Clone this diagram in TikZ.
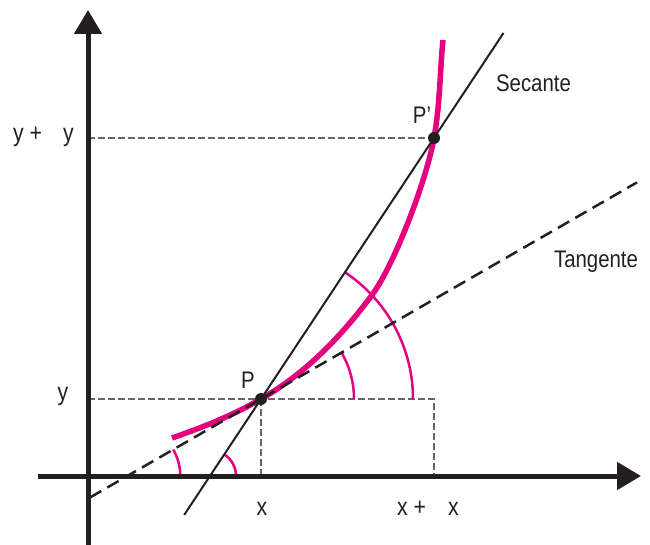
\documentclass[tikz,border=0pt]{standalone}
\usepackage{fontspec}
\setmainfont[FakeStretch=0.85]{Liberation Sans}
\usetikzlibrary{arrows.meta,calc}
\definecolor{mag}{HTML}{E5007D}
\definecolor{ink}{HTML}{231F20}
\definecolor{guide}{HTML}{666666}
\begin{document}
\begin{tikzpicture}[x=1pt,y=-1pt,
  axis/.style={line width=5pt,draw=ink,-{Triangle[length=24pt,width=27pt]}},
  guideline/.style={draw=guide,line width=2.4pt,dash pattern=on 6.5pt off 3.5pt},
  secline/.style={draw=ink,line width=2pt},
  tanline/.style={draw=ink,line width=2.5pt,dash pattern=on 13pt off 7pt},
  curve/.style={draw=mag,line width=5.5pt,line cap=butt},
  anglearc/.style={draw=mag,line width=2.5pt},
  dot/.style={circle,fill=ink,inner sep=0pt,minimum size=12pt},
  lbl/.style={font=\fontsize{24}{28}\selectfont,text=ink,inner sep=0pt},
  axlbl/.style={font=\fontsize{25}{29}\selectfont,text=ink,inner sep=0pt}]
\useasboundingbox (0,0) rectangle (650,545);
% key points
\coordinate (P) at (261,399);
\coordinate (Pp) at (434,138);
\coordinate (Q) at (434,399);
\coordinate (yP) at (88,399);
\coordinate (yPp) at (88,138);
\coordinate (xP) at (261,476);
\coordinate (xPp) at (434,476);
\coordinate (S1) at (184.2,514.9);
\coordinate (S2) at (503.5,33);
\coordinate (T1) at (90,497.5);
\coordinate (T2) at (637,182.4);
\coordinate (T0) at (127.3,476);
\coordinate (S0) at (210,476);
\coordinate (Xa) at (38,476);
\coordinate (Xb) at (641,476);
\coordinate (Ya) at (88,545);
\coordinate (Yb) at (88,10);
\coordinate (C0) at (172,438);
\coordinate (M) at (372,295);
\coordinate (C9) at (443,40);
% guide lines
\draw[guideline] (yP) -- (Q) -- (xPp);
\draw[guideline] (P) -- (xP);
\draw[guideline] (yPp) -- (Pp);
% angle arcs
\draw[anglearc] ($(P)+(152,0)$) arc[start angle=0,end angle=-56.46,radius=152];
\draw[anglearc] ($(P)+(93,0)$) arc[start angle=0,end angle=-29.94,radius=93];
\draw[anglearc] ($(T0)+(53,0)$) arc[start angle=0,end angle=-29.94,radius=53];
\draw[anglearc] ($(S0)+(26,0)$) arc[start angle=0,end angle=-56.46,radius=26];
% curve
\draw[curve] (C0) .. controls (202,427.5) and (231,416.3) .. (P)
  .. controls (301,376) and (337,342.3) .. (M)
  .. controls (394,265.3) and (426,182) .. (Pp)
  .. controls (440,105) and (440,70) .. (C9);
% lines
\draw[tanline] (T1) -- (T2);
\draw[secline] (S1) -- (S2);
% axes
\draw[axis] (Xa) -- (Xb);
\draw[axis] (Ya) -- (Yb);
% points
\node[dot] (dotP) at (P) {};
\node[dot] (dotPp) at (Pp) {};
% labels
\node[lbl,anchor=base] (lsec) at (533.5,92) {Secante};
\node[lbl,anchor=base] (ltan) at (596,267) {Tangente};
\node[lbl,anchor=base] (lPp) at (422,124) {P’};
\node[lbl,anchor=base] (lP) at (248,388) {P};
\node[axlbl,anchor=base west] (lyPp) at (13,142) {y +\hspace{21pt}y};
\node[axlbl,anchor=base] (lyP) at (63,400) {y};
\node[axlbl,anchor=base] (lxP) at (262,515) {x};
\node[axlbl,anchor=base west] (lxPp) at (397,515) {x +\hspace{22pt}x};
\end{tikzpicture}
\end{document}
